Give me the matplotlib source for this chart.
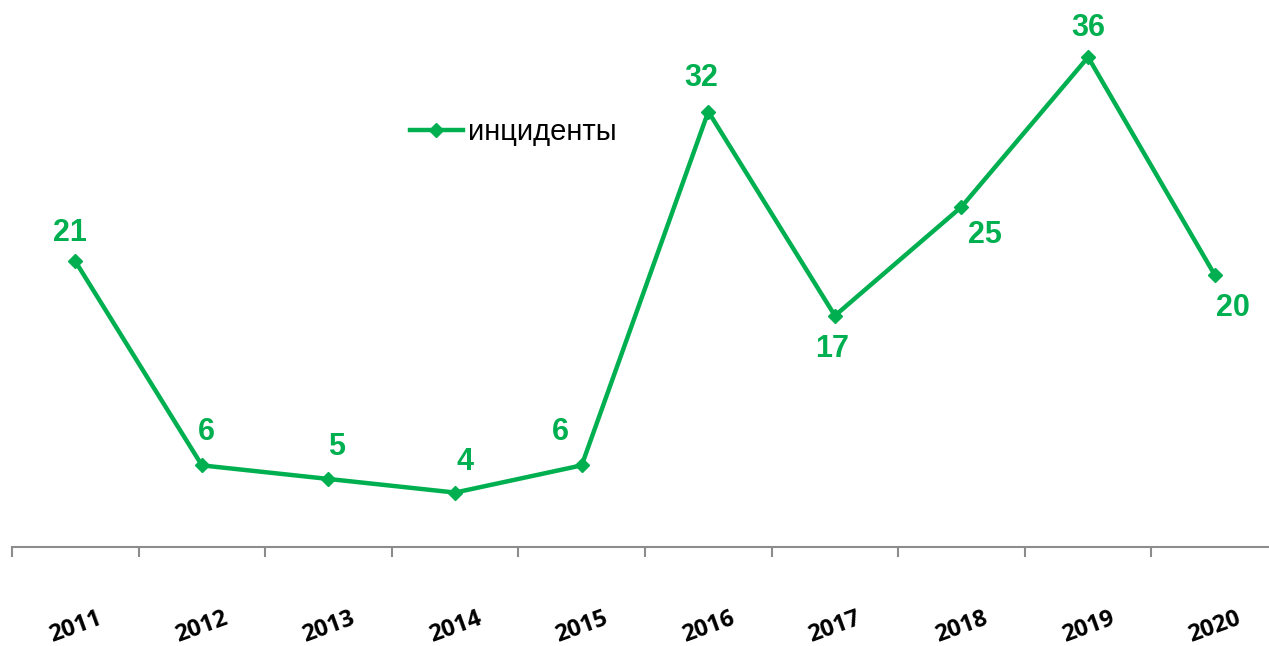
import matplotlib.pyplot as plt

years = ["2011", "2012", "2013", "2014", "2015", "2016", "2017", "2018", "2019", "2020"]
incidents = [21, 6, 5, 4, 6, 32, 17, 25, 36, 20]
# where the value label sits: offset in points (dx, dy)
label_offsets = [(-4, 20), (3, 24), (6, 23), (7, 22), (-15, 24), (-5, 24),
                 (-2, -24), (17, -20), (0, 21), (13, -24)]

GREEN = "#00B050"

fig = plt.figure(figsize=(12.69, 6.46), dpi=100)
W, H = 1269, 646
step = 126.6
left = 12
ax = fig.add_axes([left / W, 99 / H, 10 * step / W, 547 / H])

x = list(range(len(years)))
ax.plot(x, incidents, color=GREEN, lw=3.2, marker="D", ms=7,
        label="инциденты", clip_on=False)

for xi, v, (dx, dy) in zip(x, incidents, label_offsets):
    ax.annotate(str(v), (xi, v), xytext=(dx, dy), textcoords="offset points",
                ha="center", va="center", color=GREEN, fontsize=22,
                fontweight="bold", family="Liberation Sans")

ax.set_xlim(-0.5, 9.5)
ax.set_ylim(0, 40.2)

for s in ["top", "right", "left"]:
    ax.spines[s].set_visible(False)
ax.spines["bottom"].set_color("#8c8c8c")
ax.spines["bottom"].set_linewidth(1.5)
ax.set_yticks([])

ax.set_xticks(x)
ax.set_xticklabels(years, rotation=20, fontsize=17, fontweight="bold",
                   family="Open Sans", ha="center", rotation_mode="anchor",
                   va="center")
ax.tick_params(axis="x", which="major", length=0, pad=58)
ax.set_xticks([i - 0.5 for i in range(len(years) + 1)], minor=True)
ax.tick_params(axis="x", which="minor", length=7, width=1.5, color="#8c8c8c",
               direction="out")

fig.legend(loc="center left", bbox_to_anchor=(410 / W, 1 - 132 / H),
           frameon=False, borderpad=0, borderaxespad=0, handlelength=1.8,
           handletextpad=0.2, prop={"family": "Liberation Sans", "size": 21})

fig.savefig("out.png", dpi=100)
